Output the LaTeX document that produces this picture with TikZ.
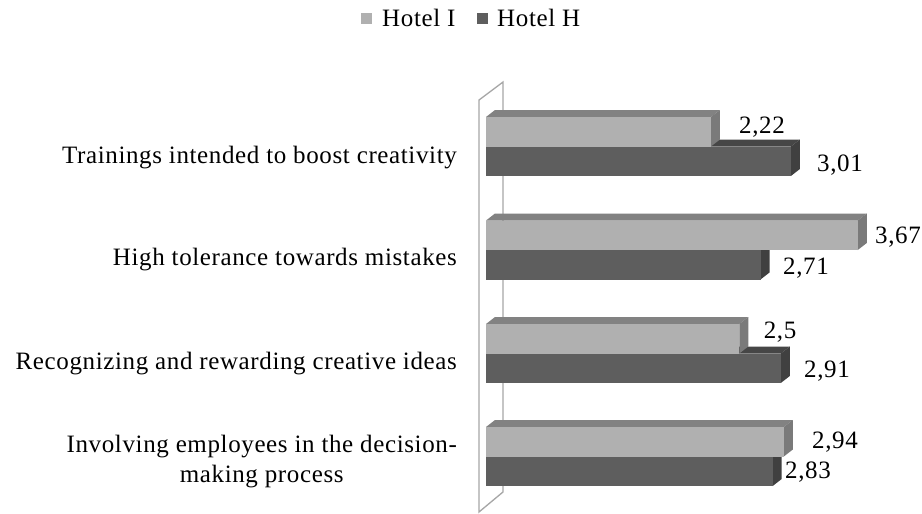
\documentclass[tikz,border=0pt]{standalone}
\usepackage{fontspec}
\setmainfont[LetterSpace=2.5]{Liberation Serif}
\definecolor{hotelIfront}{HTML}{B0B0B0}
\definecolor{hotelItop}{HTML}{828282}
\definecolor{hotelIside}{HTML}{7A7A7A}
\definecolor{hotelHfront}{HTML}{5E5E5E}
\definecolor{hotelHtop}{HTML}{464646}
\definecolor{hotelHside}{HTML}{404040}
\definecolor{wallgray}{HTML}{A6A6A6}
\tikzset{
  chartfont/.style={font=\fontsize{25}{30}\selectfont, inner sep=0pt},
  catlabel/.style={chartfont, anchor=base east},
  vallabel/.style={chartfont, anchor=base},
  legtext/.style={chartfont, anchor=base west},
}
% #1: top of front face, #2: value, #3: colour prefix
\newcommand{\drawbar}[3]{%
  \fill[#3top] (486,#1) -- (495,#1-7) -- (486+101.3*#2+9,#1-7) -- (486+101.3*#2,#1) -- cycle;
  \fill[#3side] (486+101.3*#2,#1) -- (486+101.3*#2+9,#1-7) -- (486+101.3*#2+9,#1+22.5) -- (486+101.3*#2,#1+29.5) -- cycle;
  \fill[#3front] (486,#1) rectangle (486+101.3*#2,#1+29.5);
}
\begin{document}
\begin{tikzpicture}[x=1pt,y=-1pt]
\useasboundingbox[fill=white] (0,0) rectangle (922,514);
% Drawing legend
\fill[hotelIfront] (361,13) rectangle (372,24);
\node[legtext] (legI) at (382,26) {Hotel I};
\fill[hotelHfront] (477,13) rectangle (488,24);
\node[legtext] (legH) at (497,26) {Hotel H};
% Drawing wall
\draw[wallgray, line width=1.3pt] (479,100) -- (503,82) -- (503,492) -- (479,512) -- cycle;
% Done with wall; drawing bars
% Group 1: Trainings intended to boost creativity
\drawbar{146.5}{3.01}{hotelH}
\drawbar{117}{2.22}{hotelI}
% Group 2: High tolerance towards mistakes
\drawbar{250}{2.71}{hotelH}
\drawbar{220.5}{3.67}{hotelI}
% Group 3: Recognizing and rewarding creative ideas
\drawbar{353.5}{2.91}{hotelH}
\drawbar{324}{2.5}{hotelI}
% Group 4: Involving employees in the decision-making process
\drawbar{456.5}{2.83}{hotelH}
\drawbar{427}{2.94}{hotelI}
% Done with bars; drawing category labels
\node[catlabel] (catA) at (457,163) {Trainings intended to boost creativity};
\node[catlabel] (catB) at (457,265) {High tolerance towards mistakes};
\node[catlabel] (catC) at (457,369) {Recognizing and rewarding creative ideas};
\node[chartfont, anchor=east, align=center] (catD) at (457,462) {Involving employees in the decision-\\making process};
% Drawing value labels
\node[vallabel] (valAI) at (762,133) {2,22};
\node[vallabel] (valAH) at (840,171) {3,01};
\node[vallabel] (valBI) at (898,243) {3,67};
\node[vallabel] (valBH) at (806,274) {2,71};
\node[vallabel] (valCI) at (780,338) {2,5};
\node[vallabel] (valCH) at (827,377) {2,91};
\node[vallabel] (valDI) at (835,448) {2,94};
\node[vallabel] (valDH) at (808,478) {2,83};
% Done with labels
\end{tikzpicture}
\end{document}
